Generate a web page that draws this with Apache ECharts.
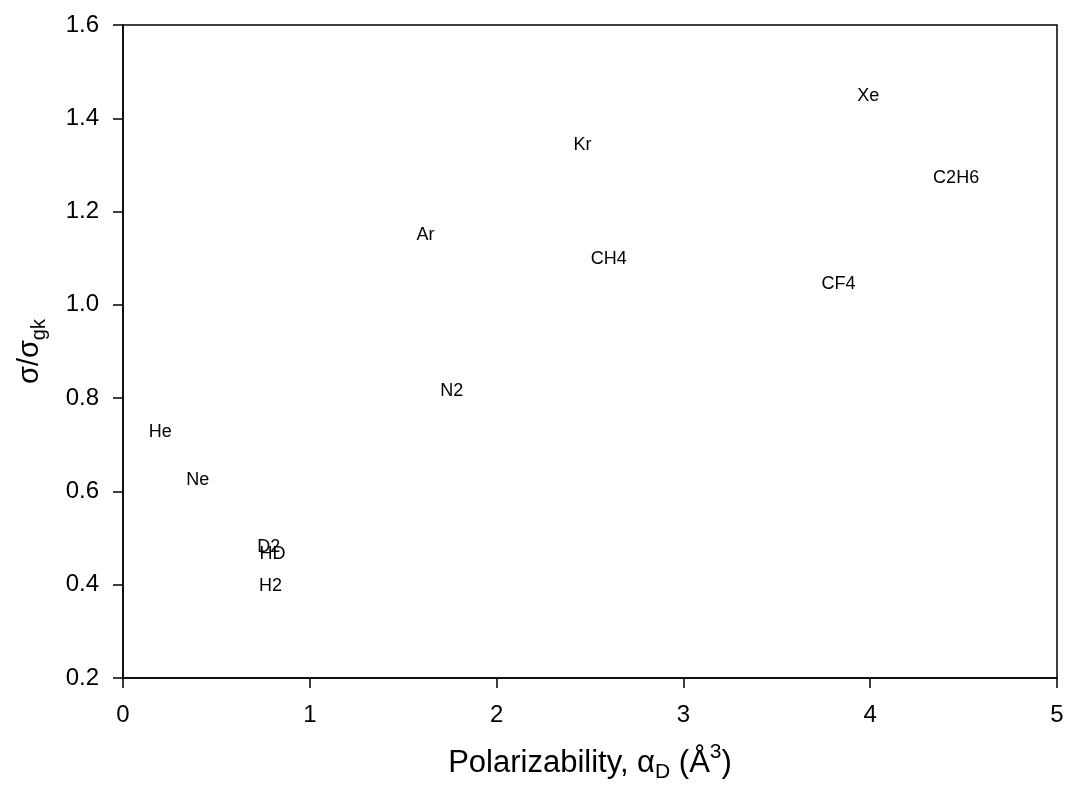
<!DOCTYPE html>
<html>
<head>
<meta charset="utf-8">
<script src="https://cdn.jsdelivr.net/npm/echarts@6/dist/echarts.min.js"></script>
<style>
html,body{margin:0;padding:0;background:#fff;}
#chart{width:1067px;height:787px;}
</style>
</head>
<body>
<div id="chart"></div>
<script>
// Gas names, polarizability (Å^3) and sigma/sigma_gk
const gases = ['He', 'Ne', 'D2', 'HD', 'H2', 'N2', 'Ar', 'CH4', 'Kr', 'CF4', 'Xe', 'C2H6'];
const polarizability = [0.20, 0.40, 0.78, 0.80, 0.79, 1.76, 1.62, 2.60, 2.46, 3.83, 3.99, 4.46];
const sigmaRatio = [0.727, 0.624, 0.481, 0.466, 0.397, 0.815, 1.150, 1.098, 1.343, 1.045, 1.448, 1.272];
const xTicks = [0, 1, 2, 3, 4, 5];
const yTicks = [0.2, 0.4, 0.6, 0.8, 1.0, 1.2, 1.4, 1.6];

const FONT = '"Liberation Sans", Arial, sans-serif';
const data = gases.map((g, i) => [polarizability[i], sigmaRatio[i], g]);

const chart = echarts.init(document.getElementById('chart'), null, {renderer: 'canvas'});
const axisLine = {show: true, onZero: false, lineStyle: {color: '#000', width: 1.5}};
chart.setOption({
  animation: false,
  backgroundColor: '#fff',
  grid: {left: 123, right: 10, top: 25, bottom: 109, show: true, borderColor: '#000', borderWidth: 1.5,
         backgroundColor: 'transparent', containLabel: false, outerBoundsMode: 'none'},
  xAxis: {
    type: 'value', min: xTicks[0], max: xTicks[xTicks.length - 1], interval: 1,
    axisLine: axisLine,
    axisTick: {show: true, inside: false, length: 10, lineStyle: {color: '#000', width: 1.5}},
    axisLabel: {color: '#000', fontSize: 24, fontFamily: FONT, margin: 25},
    splitLine: {show: false},
    name: '{a|Polarizability, α}{s|D}{a| (Å}{p|3}{a|)}',
    nameLocation: 'middle', nameGap: 64,
    nameTextStyle: {
      rich: {
        a: {fontSize: 31, fontFamily: FONT, color: '#000'},
        s: {fontSize: 21, fontFamily: FONT, color: '#000', padding: [18, 0, 0, 0]},
        p: {fontSize: 21, fontFamily: FONT, color: '#000', padding: [0, 0, 22, 0]}
      }
    }
  },
  yAxis: {
    type: 'value', min: yTicks[0], max: yTicks[yTicks.length - 1], interval: 0.2,
    axisLine: axisLine,
    axisTick: {show: true, inside: false, length: 10, lineStyle: {color: '#000', width: 1.5}},
    axisLabel: {color: '#000', fontSize: 24, fontFamily: FONT, margin: 24, formatter: v => v.toFixed(1)},
    splitLine: {show: false},
    name: '{a|σ/σ}{s|gk}',
    nameLocation: 'middle', nameGap: 74, nameRotate: 90,
    nameTextStyle: {
      rich: {
        a: {fontSize: 29, fontFamily: FONT, color: '#000'},
        s: {fontSize: 20, fontFamily: FONT, color: '#000', padding: [18, 0, 0, 0]}
      }
    }
  },
  series: [{
    type: 'scatter',
    data: data,
    symbol: 'circle',
    symbolSize: 2,
    itemStyle: {color: '#fff', opacity: 1},
    label: {
      show: true, position: 'inside',
      formatter: p => p.data[2],
      color: '#000', opacity: 1, textBorderWidth: 0, fontSize: 18, fontFamily: FONT
    },
    labelLayout: {hideOverlap: false},
    emphasis: {disabled: true}
  }]
});
</script>
</body>
</html>
